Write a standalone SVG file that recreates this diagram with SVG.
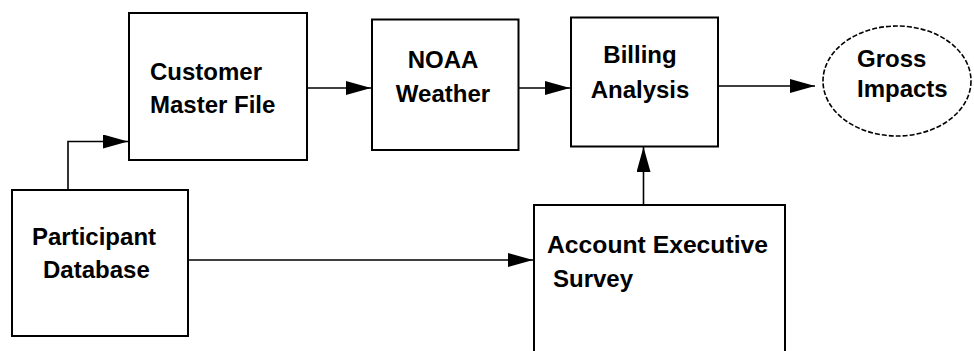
<svg xmlns="http://www.w3.org/2000/svg" width="974" height="351" viewBox="0 0 974 351">
<style>
.box{fill:#fff;stroke:#000;stroke-width:2}
.ell{fill:#fff;stroke:#000;stroke-width:1.6;stroke-dasharray:5 2}
.lbl{font-family:"Liberation Sans",Arial,sans-serif;font-weight:bold;font-size:24px;fill:#000}
.con{fill:none;stroke:#000;stroke-width:1.6}
</style>
<defs>
<marker id="ah" markerUnits="userSpaceOnUse" markerWidth="26" markerHeight="16" refX="25" refY="7" orient="auto">
<path d="M0,0 L25,7 L0,14 Z" fill="#000"/>
</marker>
</defs>
<rect width="974" height="351" fill="#fff"/>
<g id="connectors">
<path class="con" d="M68,190 V141.5 H128" marker-end="url(#ah)"/>
<path class="con" d="M307,88 H371" marker-end="url(#ah)"/>
<path class="con" d="M518,88 H570" marker-end="url(#ah)"/>
<path class="con" d="M718,86 H815" marker-end="url(#ah)"/>
<path class="con" d="M643.5,205 V147" marker-end="url(#ah)"/>
<path class="con" d="M188,260 H533" marker-end="url(#ah)"/>
</g>
<g id="customer">
<rect class="box" x="129" y="13" width="178" height="147"/>
<text class="lbl" x="150" y="80">Customer</text>
<text class="lbl" x="150" y="113">Master File</text>
</g>
<g id="noaa">
<rect class="box" x="372" y="19.5" width="146.5" height="130.5"/>
<text class="lbl" x="443" y="68" text-anchor="middle">NOAA</text>
<text class="lbl" x="443" y="102" text-anchor="middle">Weather</text>
</g>
<g id="billing">
<rect class="box" x="571" y="17.5" width="147" height="129"/>
<text class="lbl" x="640" y="63" text-anchor="middle">Billing</text>
<text class="lbl" x="640" y="98" text-anchor="middle">Analysis</text>
</g>
<g id="gross">
<ellipse class="ell" cx="897" cy="81" rx="74" ry="55"/>
<text class="lbl" x="857" y="67">Gross</text>
<text class="lbl" x="857" y="97">Impacts</text>
</g>
<g id="participant">
<rect class="box" x="12" y="190" width="176" height="146"/>
<text class="lbl" x="32" y="245">Participant</text>
<text class="lbl" x="43" y="278">Database</text>
</g>
<g id="account">
<rect class="box" x="534" y="205" width="251" height="160"/>
<text class="lbl" x="547" y="253" textLength="221" lengthAdjust="spacingAndGlyphs">Account Executive</text>
<text class="lbl" x="553" y="287">Survey</text>
</g>
</svg>
